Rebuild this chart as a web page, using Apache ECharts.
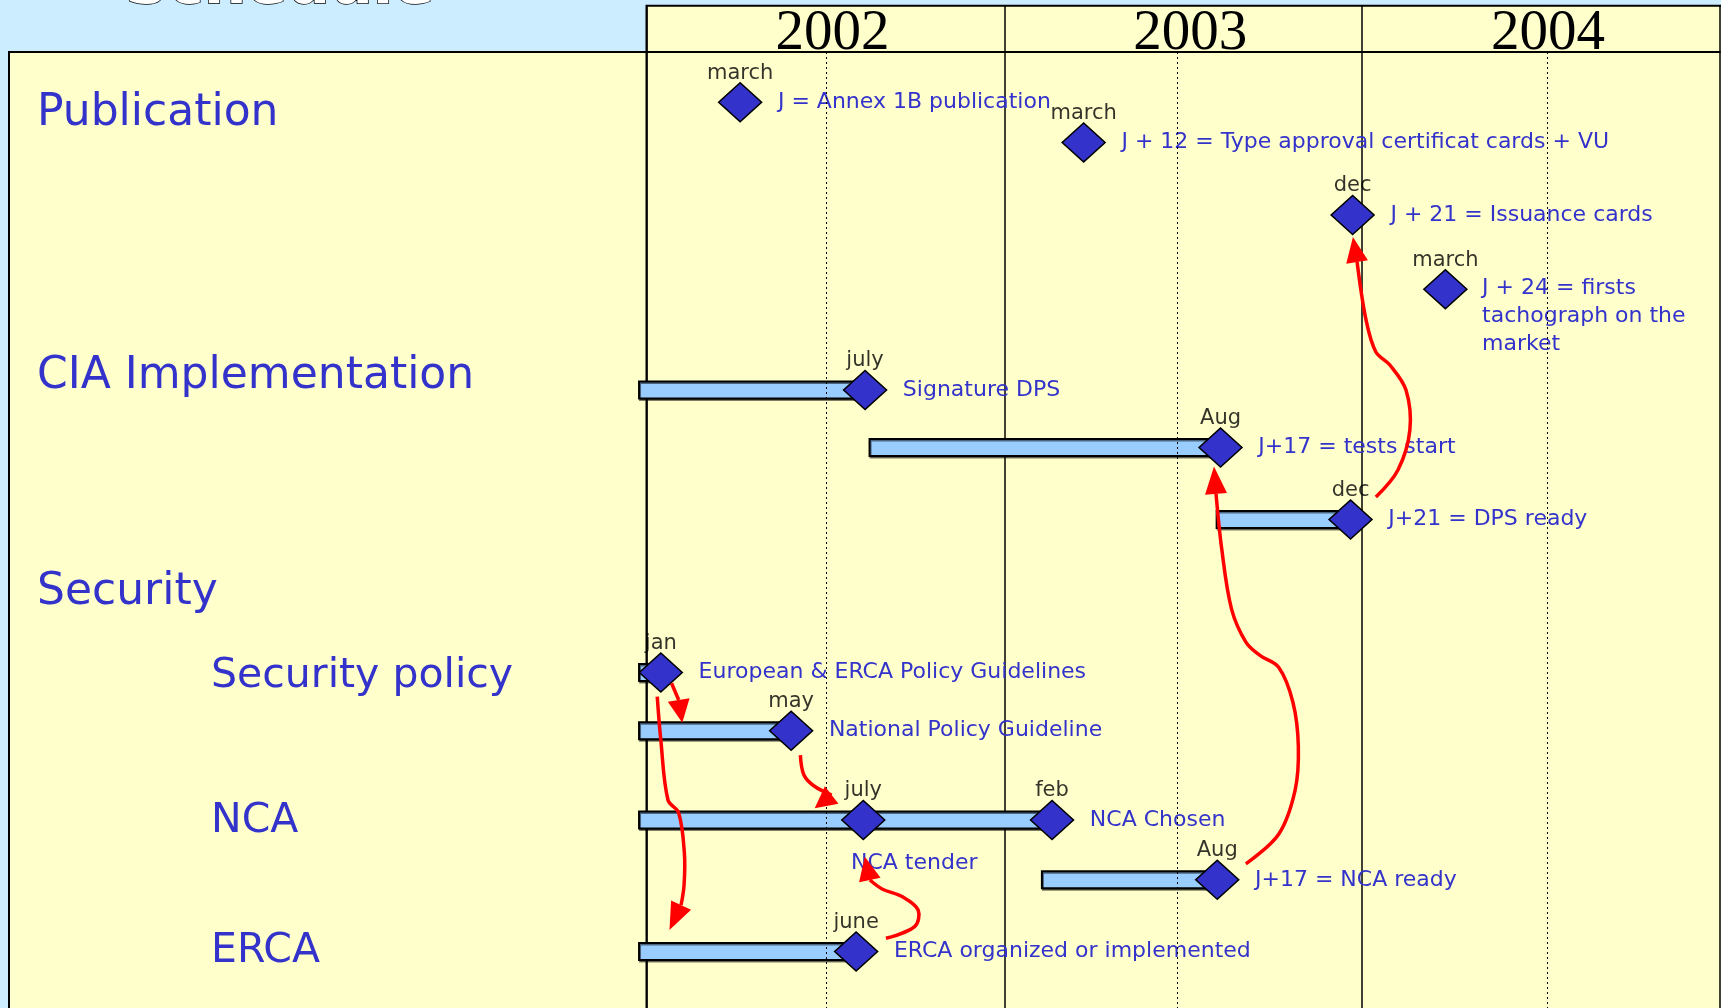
<!DOCTYPE html>
<html><head><meta charset="utf-8">
<script src="https://cdn.jsdelivr.net/npm/echarts@6/dist/echarts.min.js"></script>
<style>html,body{margin:0;padding:0;background:#CCECFF;overflow:hidden}#c{width:1721px;height:1008px}</style>
</head><body><div id="c"></div>
<script>
// ---- data (x: months from Jan 2002, y: row position 0..100 top->bottom) ----
const years = ['2002', '2003', '2004'];
const midYearLines = [6.04, 17.8, 30.22];

const sectionNames = ['Publication', 'CIA Implementation', 'Security', 'Security policy', 'NCA', 'ERCA'];
const sectionRows = [6.17, 33.68, 56.28, 64.96, 80.13, 93.72];
const sectionLevel = [0, 0, 0, 1, 1, 1];

const milestoneText = [
  'J = Annex 1B publication',
  'J + 12 = Type approval certificat cards + VU',
  'J + 21 = Issuance cards',
  'J + 24 = firsts\ntachograph on the\nmarket',
  'Signature DPS',
  'J+17 = tests start',
  'J+21 = DPS ready',
  'European & ERCA Policy Guidelines',
  'National Policy Guideline',
  'NCA tender',
  'NCA Chosen',
  'J+17 = NCA ready',
  'ERCA organized or implemented'
];
const milestoneMonthName = ['march', 'march', 'dec', 'march', 'july', 'Aug', 'dec', 'jan', 'may', 'july', 'feb', 'Aug', 'june'];
const milestoneMonth = [3.14, 14.66, 23.68, 26.79, 7.33, 19.25, 23.61, 0.48, 4.85, 7.27, 13.6, 19.14, 7.03];
const milestoneRow = [5.25, 9.47, 17.05, 24.81, 35.36, 41.37, 48.9, 64.9, 71.0, 80.33, 80.33, 86.59, 94.1];

const barStart = [-0.25, 7.48, 19.12, -0.25, -0.25, -0.25, 13.26, -0.25];
const barEnd = [7.33, 19.25, 23.61, 0.48, 4.85, 13.6, 19.14, 7.03];
const barRow = [35.36, 41.37, 48.9, 64.9, 71.0, 80.33, 86.59, 94.1];

// dependency arrows: path points [month,row]; last point = arrow tip
const arrowDpsToIssuance = [[24.46, 46.55], [25.2, 43.72], [25.6, 39.54], [25.47, 35.36], [24.93, 32.74], [24.46, 31.38], [24.13, 28.03], [23.83, 21.97], [23.69, 19.35]];
const arrowNcaReadyToTests = [[20.10, 84.92], [21.2, 81.82], [21.75, 77.23], [21.86, 72.64], [21.68, 68.04], [21.2, 64.36], [20.57, 63.11], [20.1, 61.72], [19.62, 58.28], [19.29, 51.97], [19.1, 46.22], [19.03, 43.36]];
const arrowEuropeanToNational = [[0.84, 66.03], [1.08, 67.78], [1.2, 70.16]];
const arrowEuropeanToErca = [[0.36, 67.44], [0.48, 71.97], [0.72, 78.24], [1.08, 79.6], [1.27, 83.79], [1.26, 87.13], [1.16, 89.23], [0.77, 91.84]];
const arrowNationalToNca = [[5.16, 73.54], [5.28, 75.63], [5.62, 76.78], [6.21, 77.72], [5.64, 79.11]];
const arrowErcaToTender = [[8.03, 92.71], [8.99, 91.49], [9.11, 89.75], [8.6, 88.39], [7.9, 87.55], [7.49, 86.61], [7.32, 84.17]];
const arrows = [arrowDpsToIssuance, arrowNcaReadyToTests, arrowEuropeanToNational, arrowEuropeanToErca, arrowNationalToNca, arrowErcaToTender];

// ---- chart ----
const BLUE_TEXT = '#3333CC';
const FONT = 'DejaVu Sans';
const chart = echarts.init(document.getElementById('c'), null, {renderer: 'canvas'});

const gridLeft = 646.5;
const milestoneData = milestoneMonth.map((m, i) => {
  const item = {value: [m, milestoneRow[i]]};
  const txt = milestoneText[i];
  if (txt.indexOf('\n') >= 0) {
    item.label = {position: [59, 5], align: 'left', verticalAlign: 'top', lineHeight: 28.3};
  } else if (txt === 'NCA tender') {
    item.label = {position: [10, 64], align: 'left', verticalAlign: 'middle'};
  }
  return item;
});

const option = {
  animation: false,
  backgroundColor: '#CCECFF',
  grid: [
    {left: gridLeft, right: 1, top: 52, bottom: 0},
    {left: gridLeft, right: 1, top: 5.7, height: 46}
  ],
  xAxis: [
    {gridIndex: 0, type: 'value', min: 0, max: 36, interval: 12,
      axisLine: {show: false}, axisTick: {show: false}, axisLabel: {show: false},
      splitLine: {show: true, lineStyle: {color: '#000', width: 1.5}}},
    {gridIndex: 1, type: 'category', data: years, position: 'bottom', boundaryGap: true,
      axisLine: {show: true, lineStyle: {color: '#000', width: 2}},
      axisTick: {show: false},
      axisLabel: {inside: true, margin: 18, fontSize: 57, fontFamily: 'Liberation Serif', color: '#000',
        verticalAlign: 'middle', padding: [0, 0, 0, 14]},
      splitLine: {show: true, interval: 0, lineStyle: {color: '#000', width: 1.5}}}
  ],
  yAxis: [
    {gridIndex: 0, type: 'value', inverse: true, min: 0, max: 100, show: false},
    {gridIndex: 1, type: 'value', min: 0, max: 1, show: false}
  ],
  series: [
    {
      type: 'custom', name: 'bars', xAxisIndex: 0, yAxisIndex: 0, z: 2, silent: true,
      data: barStart.map((s, i) => [s, barEnd[i], barRow[i]]),
      encode: {x: [0, 1], y: 2},
      renderItem: function (params, api) {
        const s = api.coord([api.value(0), api.value(2)]);
        const e = api.coord([api.value(1), api.value(2)]);
        const h = 17;
        return {type: 'rect', shape: {x: s[0], y: s[1] - h / 2, width: e[0] - s[0], height: h},
          style: {fill: '#99CCFF', stroke: '#000', lineWidth: 2, shadowColor: 'rgba(0,0,0,0.5)', shadowOffsetX: 1, shadowOffsetY: 1.5}};
      },
      markLine: {
        silent: true, symbol: 'none', label: {show: false},
        lineStyle: {color: '#000', width: 1, type: [2, 3]},
        data: midYearLines.map(v => ({xAxis: v}))
      }
    },
    {
      type: 'scatter', name: 'milestones', xAxisIndex: 0, yAxisIndex: 0, z: 3, silent: true,
      symbol: 'diamond', symbolSize: [43, 39],
      itemStyle: {color: '#3333CC', borderColor: '#000', borderWidth: 1.5, opacity: 1},
      label: {show: true, position: 'right', distance: 15.5, color: BLUE_TEXT, fontSize: 22, fontFamily: FONT,
        formatter: p => milestoneText[p.dataIndex]},
      data: milestoneData
    },
    {
      type: 'scatter', name: 'months', xAxisIndex: 0, yAxisIndex: 0, z: 4, silent: true,
      symbol: 'diamond', symbolSize: [43, 39],
      itemStyle: {color: 'rgba(0,0,0,0)', borderWidth: 0},
      label: {show: true, position: 'top', distance: -1, color: '#000', fontSize: 21, fontFamily: FONT,
        formatter: p => milestoneMonthName[p.dataIndex]},
      data: milestoneMonth.map((m, i) => [m, milestoneRow[i]])
    },
    {
      type: 'custom', name: 'arrows', xAxisIndex: 0, yAxisIndex: 0, z: 5, silent: true,
      data: arrows.map((a, i) => [a[0][0], a[0][1]]),
      renderItem: function (params, api) {
        const pts = arrows[params.dataIndex].map(p => api.coord(p));
        const n = pts.length;
        const tip = pts[n - 1], base = pts[n - 2];
        const dx = tip[0] - base[0], dy = tip[1] - base[1];
        const L = Math.hypot(dx, dy);
        const nx = -dy / L, ny = dx / L, w = 11;
        const children = [
          {type: 'polygon', shape: {points: [tip, [base[0] + nx * w, base[1] + ny * w], [base[0] - nx * w, base[1] - ny * w]]},
            style: {fill: '#FF0000'}}
        ];
        if (n > 2) {
          children.unshift({type: 'polyline', shape: {points: pts.slice(0, n - 1), smooth: 0.35},
            style: {stroke: '#FF0000', lineWidth: 3.5, fill: null}});
        }
        return {type: 'group', children: children};
      }
    }
  ]
};
chart.setOption(option);

// panels, title and section labels
const graphics = [
  {type: 'rect', z: -10, shape: {x: 9, y: 52, width: 640, height: 1000},
    style: {fill: '#FFFFCC', stroke: '#000', lineWidth: 2}},
  {type: 'rect', z: -10, shape: {x: gridLeft, y: 5.7, width: 1100, height: 1050},
    style: {fill: '#FFFFCC', stroke: '#000', lineWidth: 2}},
  {type: 'text', z: 10, x: 125, y: -13,
    style: {text: 'Schedule', fill: '#FFFFFF', stroke: '#000', lineWidth: 1.5,
      font: 'bold 60px "DejaVu Sans"', verticalAlign: 'middle'}}
];
sectionNames.forEach((name, i) => {
  const y = chart.convertToPixel({yAxisIndex: 0}, sectionRows[i]);
  const lvl = sectionLevel[i];
  graphics.push({type: 'text', z: 10, x: lvl ? 211 : 37, y: y + 3,
    style: {text: name, fill: BLUE_TEXT, font: (lvl ? 41 : 44) + 'px "DejaVu Sans"', verticalAlign: 'middle'}});
});
chart.setOption({graphic: graphics});
</script>
</body></html>
